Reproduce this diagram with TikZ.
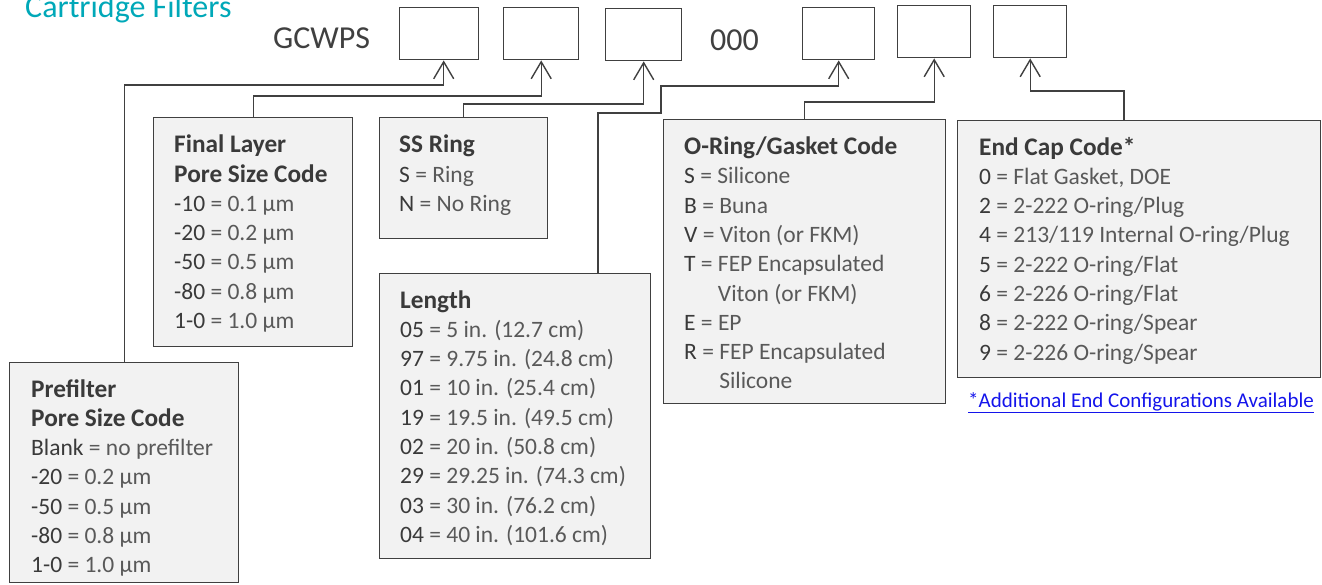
\documentclass[tikz,border=0pt]{standalone}
\usepackage{fontspec}
\setmainfont{Carlito}
\usetikzlibrary{arrows.meta}
\definecolor{linec}{HTML}{404040}
\definecolor{panelg}{HTML}{F2F2F2}
\definecolor{codec}{HTML}{3A3A3A}
\definecolor{valc}{HTML}{595959}
\definecolor{teal}{RGB}{0,168,184}
\definecolor{linkc}{RGB}{20,20,235}
\newcommand\kcode[1]{{\color{codec}#1}}
\newcommand\ttl[1]{{\color{codec}\fontsize{25.3}{29.3}\selectfont\bfseries #1}}
\begin{document}
\begin{tikzpicture}[x=1pt,y=-1pt,
  codebox/.style={draw=linec,line width=1.4pt,fill=white,inner sep=0pt,anchor=north west},
  panel/.style={draw=linec,line width=1.4pt,fill=panelg,inner sep=0pt,anchor=north west},
  txt/.style={inner sep=0pt,anchor=base west,align=left,text=valc,
    font=\fontsize{23.5}{29.3}\selectfont},
  conn/.style={draw=linec,line width=1.4pt},
  arr/.style={conn,-{Straight Barb[length=17pt,width=20pt,line width=1.4pt]}}]
\useasboundingbox (0,0) rectangle (1322,584);
% title and fixed text
\node[inner sep=0pt,anchor=base west,text=teal,font=\fontsize{32}{38}\selectfont] (title) at (25,17.5) {Cartridge Filters};
\node[inner sep=0pt,anchor=base west,text=linec,font=\fontsize{32}{38}\selectfont] (gc) at (273,48.5) {GCWPS};
\node[inner sep=0pt,anchor=base west,text=linec,font=\fontsize{32}{38}\selectfont] (zz) at (710,50) {000};
% code boxes
\node[codebox,minimum width=79pt,minimum height=52pt] (b1) at (399,7) {};
\node[codebox,minimum width=75pt,minimum height=52pt] (b2) at (503,7) {};
\node[codebox,minimum width=76pt,minimum height=52pt] (b3) at (605,8) {};
\node[codebox,minimum width=72pt,minimum height=52pt] (b4) at (802,7) {};
\node[codebox,minimum width=73pt,minimum height=52pt] (b5) at (897,5) {};
\node[codebox,minimum width=73pt,minimum height=52pt] (b6) at (993,5) {};
% panels
\node[panel,minimum width=229pt,minimum height=220pt] (pre) at (9,362) {};
\node[panel,minimum width=199pt,minimum height=229pt] (fin) at (153,117) {};
\node[panel,minimum width=168pt,minimum height=121pt] (ss) at (379,117) {};
\node[panel,minimum width=271pt,minimum height=285pt] (len) at (379,273) {};
\node[panel,minimum width=282pt,minimum height=284pt] (oring) at (663,119) {};
\node[panel,minimum width=363pt,minimum height=257pt] (ecap) at (957,120) {};
% panel texts (anchored at the baseline of the last line)
\node[txt] (preT) at (31,572.8) {\ttl{Prefilter}\\\ttl{Pore Size Code}\\
\kcode{Blank} = no prefilter\\\kcode{-20} = 0.2 µm\\\kcode{-50} = 0.5 µm\\\kcode{-80} = 0.8 µm\\\kcode{1-0} = 1.0 µm};
\node[txt] (finT) at (174,328.5) {\ttl{Final Layer}\\\ttl{Pore Size Code}\\
\kcode{-10} = 0.1 µm\\\kcode{-20} = 0.2 µm\\\kcode{-50} = 0.5 µm\\\kcode{-80} = 0.8 µm\\\kcode{1-0} = 1.0 µm};
\node[txt] (ssT) at (399,211.3) {\ttl{SS Ring}\\\kcode{S} = Ring\\\kcode{N} = No Ring};
\node[txt] (lenT) at (400,542.4) {\ttl{Length}\\
\kcode{05} = 5 in. (12.7 cm)\\\kcode{97} = 9.75 in. (24.8 cm)\\\kcode{01} = 10 in. (25.4 cm)\\
\kcode{19} = 19.5 in. (49.5 cm)\\\kcode{02} = 20 in. (50.8 cm)\\\kcode{29} = 29.25 in. (74.3 cm)\\
\kcode{03} = 30 in. (76.2 cm)\\\kcode{04} = 40 in. (101.6 cm)};
\node[txt] (oringT) at (684,388.9) {\ttl{O-Ring/Gasket Code}\\
\kcode{S} = Silicone\\\kcode{B} = Buna\\\kcode{V} = Viton (or FKM)\\\kcode{T} = FEP Encapsulated\\
\hphantom{\kcode{T} = }Viton (or FKM)\\\kcode{E} = EP\\\kcode{R} = FEP Encapsulated\\\hphantom{\kcode{R} = }Silicone};
\node[txt] (ecapT) at (979,360.1) {\ttl{End Cap Code*}\\
\kcode{0} = Flat Gasket, DOE\\\kcode{2} = 2-222 O-ring/Plug\\\kcode{4} = 213/119 Internal O-ring/Plug\\
\kcode{5} = 2-222 O-ring/Flat\\\kcode{6} = 2-226 O-ring/Flat\\\kcode{8} = 2-222 O-ring/Spear\\\kcode{9} = 2-226 O-ring/Spear};
\node[inner sep=0pt,anchor=base west,text=linkc,font=\fontsize{21}{25}\selectfont] (link) at (968,407) {\underline{*Additional End Configurations Available}};
% connector ends
\coordinate (a1) at ([xshift=4.5pt]b1.south);
\coordinate (lx) at ([xshift=219pt]len.north west);
\coordinate (ex) at ([xshift=167pt]ecap.north west);
% connectors
\draw[arr] (pre.north) |- (a1 |- 0,85) -- (a1);
\draw[arr] (fin.north) |- (b2.south |- 0,96) -- (b2.south);
\draw[arr] (ss.north) |- (b3.south |- 0,104) -- (b3.south);
\draw[arr] (lx) |- (661,113) |- (b4.south |- 0,86) -- (b4.south);
\draw[arr] (oring.north) |- (b5.south |- 0,102) -- (b5.south);
\draw[arr] (ex) |- (b6.south |- 0,91) -- (b6.south);
\end{tikzpicture}
\end{document}
